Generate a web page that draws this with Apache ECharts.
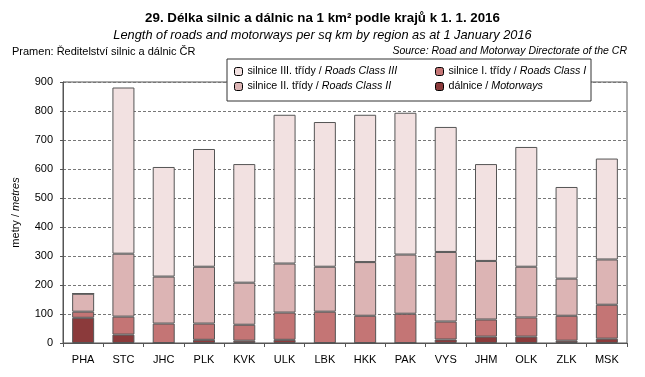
<!DOCTYPE html>
<html>
<head>
<meta charset="utf-8">
<script src="https://cdn.jsdelivr.net/npm/echarts@6/dist/echarts.min.js"></script>
<style>
  html, body { margin: 0; padding: 0; background: #fff; }
  #chart { width: 645px; height: 377px; }
</style>
</head>
<body>
<div id="chart"></div>
<script>
// kraje
const regions = ['PHA', 'STC', 'JHC', 'PLK', 'KVK', 'ULK', 'LBK', 'HKK', 'PAK', 'VYS', 'JHM', 'OLK', 'ZLK', 'MSK'];
// m na 1 km2
const motorways = [87, 29, 0, 11, 8, 11, 0, 0, 0, 12, 22, 22, 8, 15];
const roadsClass1 = [21, 62, 67, 56, 55, 94, 108, 94, 101, 62, 59, 66, 86, 117];
const roadsClass2 = [62, 217, 162, 196, 145, 169, 155, 185, 204, 240, 202, 175, 128, 156];
const roadsClass3 = [0, 573, 378, 406, 409, 513, 499, 508, 489, 431, 334, 413, 316, 348];
const yTicks = { min: 0, max: 900, interval: 100 };

const FONT = "'Liberation Sans', Arial, sans-serif";
const colors = ['#8b3a3b', '#c47575', '#dcb4b4', '#f2e1e1'];

const names = {
  mw: 'dálnice / Motorways',
  c1: 'silnice I. třídy / Roads Class I',
  c2: 'silnice II. třídy / Roads Class II',
  c3: 'silnice III. třídy / Roads Class III',
};

// česká část normálně, anglická kurzívou
function legendText(name) {
  const parts = name.split(' / ');
  return '{n|' + parts[0] + ' / }{i|' + parts[1] + '}';
}

const legendRich = {
  n: { fontFamily: FONT, fontSize: 10.7, color: '#000' },
  i: { fontFamily: FONT, fontSize: 10.7, color: '#000', fontStyle: 'italic' },
};

function barSeries(name, data, color) {
  return {
    name: name,
    type: 'bar',
    stack: 'total',
    data: data,
    barWidth: 22,
    itemStyle: { color: color, borderColor: '#555', borderWidth: 1 },
    emphasis: { disabled: true },
  };
}

const mychart = echarts.init(document.getElementById('chart'));

const option = {
  animation: false,
  title: [
    {
      text: '29. Délka silnic a dálnic na 1 km² podle krajů k 1. 1. 2016',
      left: 'center',
      top: 7,
      textStyle: { fontFamily: FONT, fontSize: 13.3, fontWeight: 'bold', color: '#000' },
    },
    {
      text: 'Length of roads and motorways per sq km by region as at 1 January 2016',
      left: 'center',
      top: 24,
      textStyle: { fontFamily: FONT, fontSize: 12.8, fontStyle: 'italic', fontWeight: 'normal', color: '#000' },
    },
    {
      text: 'Pramen: Ředitelství silnic a dálnic ČR',
      left: 7,
      top: 41,
      textStyle: { fontFamily: FONT, fontSize: 11, fontWeight: 'normal', color: '#000' },
    },
    {
      text: 'Source: Road and Motorway Directorate of the CR',
      right: 13,
      top: 41,
      textStyle: { fontFamily: FONT, fontSize: 10.5, fontStyle: 'italic', fontWeight: 'normal', color: '#000' },
    },
  ],
  graphic: [
    {
      type: 'rect',
      z: 50,
      shape: { x: 227, y: 59, width: 364, height: 42 },
      style: { fill: '#fff', stroke: '#333', lineWidth: 1 },
    },
  ],
  legend: [
    {
      z: 60,
      orient: 'vertical',
      left: 229,
      top: 61,
      itemWidth: 8,
      itemHeight: 8,
      itemGap: 4,
      data: [names.c3, names.c2],
      formatter: legendText,
      textStyle: { rich: legendRich },
      itemStyle: { borderColor: '#000', borderWidth: 1 },
    },
    {
      z: 60,
      orient: 'vertical',
      left: 430,
      top: 61,
      itemWidth: 8,
      itemHeight: 8,
      itemGap: 4,
      data: [names.c1, names.mw],
      formatter: legendText,
      textStyle: { rich: legendRich },
      itemStyle: { borderColor: '#000', borderWidth: 1 },
    },
  ],
  grid: {
    left: 63,
    right: 18,
    top: 82,
    bottom: 34,
    show: true,
    borderColor: '#555',
    borderWidth: 1,
  },
  xAxis: {
    type: 'category',
    data: regions,
    axisLine: { lineStyle: { color: '#555' } },
    axisTick: { show: true, length: 4, interval: 0, lineStyle: { color: '#555' } },
    axisLabel: { color: '#000', fontFamily: FONT, fontSize: 11, margin: 11, interval: 0 },
  },
  yAxis: {
    type: 'value',
    min: yTicks.min,
    max: yTicks.max,
    interval: yTicks.interval,
    name: '{a|metry / }{b|metres}',
    nameLocation: 'middle',
    nameGap: 42,
    nameTextStyle: {
      rich: {
        a: { fontFamily: FONT, fontSize: 11, color: '#000' },
        b: { fontFamily: FONT, fontSize: 11, color: '#000', fontStyle: 'italic' },
      },
    },
    axisLine: { show: true, lineStyle: { color: '#555' } },
    axisTick: { show: true, length: 3, lineStyle: { color: '#555' } },
    axisLabel: { color: '#000', fontFamily: FONT, fontSize: 11, margin: 10 },
    splitLine: { show: true, lineStyle: { color: '#777', type: [3, 2] } },
  },
  series: [
    barSeries(names.mw, motorways, colors[0]),
    barSeries(names.c1, roadsClass1, colors[1]),
    barSeries(names.c2, roadsClass2, colors[2]),
    barSeries(names.c3, roadsClass3, colors[3]),
  ],
};

mychart.setOption(option);
</script>
</body>
</html>
